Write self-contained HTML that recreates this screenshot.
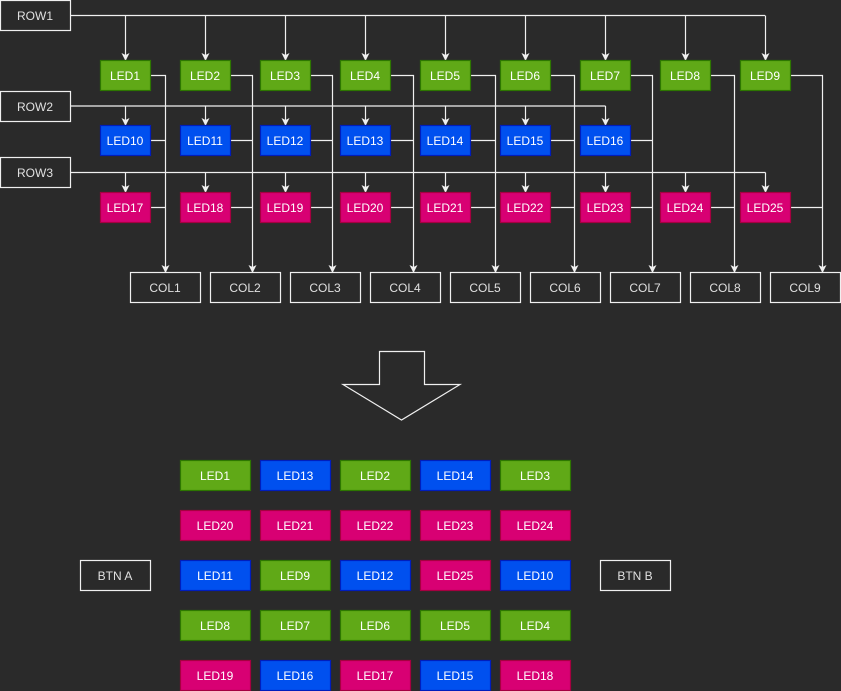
<!DOCTYPE html>
<html><head><meta charset="utf-8"><style>
html,body{margin:0;padding:0;background:#2a2a2a;}
svg{display:block;}
text{font-family:"Liberation Sans",sans-serif;font-size:12px;fill:#fff;text-anchor:middle;dominant-baseline:central;}
.w text{fill:#e0e0e0}
</style></head><body>
<svg width="841" height="691" viewBox="0 0 841 691" xmlns="http://www.w3.org/2000/svg">
<defs>
<marker id="a" markerWidth="8" markerHeight="8" refX="7" refY="4" orient="auto" markerUnits="userSpaceOnUse" viewBox="0 0 8 8">
<path d="M0,0 L8,4 L0,8 L2,4 Z" fill="#f0f0f0"/>
</marker>
</defs>
<g fill="none" stroke="#f0f0f0" stroke-width="1.2">
<path d="M70,15.5 H765"/>
<path d="M125.5,15.5 V60" marker-end="url(#a)"/><path d="M205.5,15.5 V60" marker-end="url(#a)"/><path d="M285.5,15.5 V60" marker-end="url(#a)"/><path d="M365.5,15.5 V60" marker-end="url(#a)"/><path d="M445.5,15.5 V60" marker-end="url(#a)"/><path d="M525.5,15.5 V60" marker-end="url(#a)"/><path d="M605.5,15.5 V60" marker-end="url(#a)"/><path d="M685.5,15.5 V60" marker-end="url(#a)"/><path d="M765.5,15.5 V60" marker-end="url(#a)"/>
<path d="M70,106 H605.5"/>
<path d="M125.5,106 V125" marker-end="url(#a)"/><path d="M205.5,106 V125" marker-end="url(#a)"/><path d="M285.5,106 V125" marker-end="url(#a)"/><path d="M365.5,106 V125" marker-end="url(#a)"/><path d="M445.5,106 V125" marker-end="url(#a)"/><path d="M525.5,106 V125" marker-end="url(#a)"/><path d="M605.5,106 V125" marker-end="url(#a)"/>
<path d="M70,172.5 H765.5"/>
<path d="M125.5,172.5 V192" marker-end="url(#a)"/><path d="M205.5,172.5 V192" marker-end="url(#a)"/><path d="M285.5,172.5 V192" marker-end="url(#a)"/><path d="M365.5,172.5 V192" marker-end="url(#a)"/><path d="M445.5,172.5 V192" marker-end="url(#a)"/><path d="M525.5,172.5 V192" marker-end="url(#a)"/><path d="M605.5,172.5 V192" marker-end="url(#a)"/><path d="M685.5,172.5 V192" marker-end="url(#a)"/><path d="M765.5,172.5 V192" marker-end="url(#a)"/>
<path d="M150,75.5 H165.5 V272" marker-end="url(#a)"/><path d="M150,140.5 H165.5 M150,207.5 H165.5"/>
<path d="M230,75.5 H252.5 V272" marker-end="url(#a)"/><path d="M230,140.5 H252.5 M230,207.5 H252.5"/>
<path d="M310,75.5 H332.5 V272" marker-end="url(#a)"/><path d="M310,140.5 H332.5 M310,207.5 H332.5"/>
<path d="M390,75.5 H413.5 V272" marker-end="url(#a)"/><path d="M390,140.5 H413.5 M390,207.5 H413.5"/>
<path d="M470,75.5 H495.5 V272" marker-end="url(#a)"/><path d="M470,140.5 H495.5 M470,207.5 H495.5"/>
<path d="M550,75.5 H574.5 V272" marker-end="url(#a)"/><path d="M550,140.5 H574.5 M550,207.5 H574.5"/>
<path d="M630,75.5 H652.5 V272" marker-end="url(#a)"/><path d="M630,140.5 H652.5 M630,207.5 H652.5"/>
<path d="M710,75.5 H734.5 V272" marker-end="url(#a)"/><path d="M710,207.5 H734.5"/>
<path d="M790,75.5 H822.5 V272" marker-end="url(#a)"/><path d="M790,207.5 H822.5"/>
<path d="M379.5,351.5 H424.5 V384.5 H460 L401.5,420 L343,384.5 H379.5 Z"/>
</g>
<g fill="#2a2a2a" stroke="#f0f0f0" stroke-width="1.2">
<rect x="0.5" y="0.5" width="70" height="30"/><rect x="0.5" y="91.5" width="70" height="30"/><rect x="0.5" y="157.5" width="70" height="30"/>
<rect x="130.5" y="272.5" width="70" height="30"/><rect x="210.5" y="272.5" width="70" height="30"/><rect x="290.5" y="272.5" width="70" height="30"/><rect x="370.5" y="272.5" width="70" height="30"/><rect x="450.5" y="272.5" width="70" height="30"/><rect x="530.5" y="272.5" width="70" height="30"/><rect x="610.5" y="272.5" width="70" height="30"/><rect x="690.5" y="272.5" width="70" height="30"/><rect x="770.5" y="272.5" width="70" height="30"/>
<rect x="80.5" y="560.5" width="70" height="30"/><rect x="600.5" y="560.5" width="70" height="30"/>
</g>
<g class="w">
<text x="35" y="16">ROW1</text><text x="35" y="107">ROW2</text><text x="35" y="173">ROW3</text>
<text x="165" y="288">COL1</text><text x="245" y="288">COL2</text><text x="325" y="288">COL3</text><text x="405" y="288">COL4</text><text x="485" y="288">COL5</text><text x="565" y="288">COL6</text><text x="645" y="288">COL7</text><text x="725" y="288">COL8</text><text x="805" y="288">COL9</text>
<text x="115" y="576">BTN A</text><text x="635" y="576">BTN B</text>
</g>
<g stroke-width="1.2">
<g fill="#60a917" stroke="#2d7600">
<rect x="100.5" y="60.5" width="50" height="30"/><rect x="180.5" y="60.5" width="50" height="30"/><rect x="260.5" y="60.5" width="50" height="30"/><rect x="340.5" y="60.5" width="50" height="30"/><rect x="420.5" y="60.5" width="50" height="30"/><rect x="500.5" y="60.5" width="50" height="30"/><rect x="580.5" y="60.5" width="50" height="30"/><rect x="660.5" y="60.5" width="50" height="30"/><rect x="740.5" y="60.5" width="50" height="30"/>
</g>
<g fill="#0050ef" stroke="#001dbc">
<rect x="100.5" y="125.5" width="50" height="30"/><rect x="180.5" y="125.5" width="50" height="30"/><rect x="260.5" y="125.5" width="50" height="30"/><rect x="340.5" y="125.5" width="50" height="30"/><rect x="420.5" y="125.5" width="50" height="30"/><rect x="500.5" y="125.5" width="50" height="30"/><rect x="580.5" y="125.5" width="50" height="30"/>
</g>
<g fill="#d80073" stroke="#a50040">
<rect x="100.5" y="192.5" width="50" height="30"/><rect x="180.5" y="192.5" width="50" height="30"/><rect x="260.5" y="192.5" width="50" height="30"/><rect x="340.5" y="192.5" width="50" height="30"/><rect x="420.5" y="192.5" width="50" height="30"/><rect x="500.5" y="192.5" width="50" height="30"/><rect x="580.5" y="192.5" width="50" height="30"/><rect x="660.5" y="192.5" width="50" height="30"/><rect x="740.5" y="192.5" width="50" height="30"/>
</g>
</g>
<g>
<text x="125" y="76">LED1</text><text x="205" y="76">LED2</text><text x="285" y="76">LED3</text><text x="365" y="76">LED4</text><text x="445" y="76">LED5</text><text x="525" y="76">LED6</text><text x="605" y="76">LED7</text><text x="685" y="76">LED8</text><text x="765" y="76">LED9</text>
<text x="125" y="141">LED10</text><text x="205" y="141">LED11</text><text x="285" y="141">LED12</text><text x="365" y="141">LED13</text><text x="445" y="141">LED14</text><text x="525" y="141">LED15</text><text x="605" y="141">LED16</text>
<text x="125" y="208">LED17</text><text x="205" y="208">LED18</text><text x="285" y="208">LED19</text><text x="365" y="208">LED20</text><text x="445" y="208">LED21</text><text x="525" y="208">LED22</text><text x="605" y="208">LED23</text><text x="685" y="208">LED24</text><text x="765" y="208">LED25</text>
</g>
<g stroke-width="1.2">
<g fill="#60a917" stroke="#2d7600">
<rect x="180.5" y="460.5" width="70" height="30"/><rect x="340.5" y="460.5" width="70" height="30"/><rect x="500.5" y="460.5" width="70" height="30"/>
<rect x="260.5" y="560.5" width="70" height="30"/>
<rect x="180.5" y="610.5" width="70" height="30"/><rect x="260.5" y="610.5" width="70" height="30"/><rect x="340.5" y="610.5" width="70" height="30"/><rect x="420.5" y="610.5" width="70" height="30"/><rect x="500.5" y="610.5" width="70" height="30"/>
</g>
<g fill="#0050ef" stroke="#001dbc">
<rect x="260.5" y="460.5" width="70" height="30"/><rect x="420.5" y="460.5" width="70" height="30"/>
<rect x="180.5" y="560.5" width="70" height="30"/><rect x="340.5" y="560.5" width="70" height="30"/><rect x="500.5" y="560.5" width="70" height="30"/>
<rect x="260.5" y="660.5" width="70" height="30"/><rect x="420.5" y="660.5" width="70" height="30"/>
</g>
<g fill="#d80073" stroke="#a50040">
<rect x="180.5" y="510.5" width="70" height="30"/><rect x="260.5" y="510.5" width="70" height="30"/><rect x="340.5" y="510.5" width="70" height="30"/><rect x="420.5" y="510.5" width="70" height="30"/><rect x="500.5" y="510.5" width="70" height="30"/>
<rect x="420.5" y="560.5" width="70" height="30"/>
<rect x="180.5" y="660.5" width="70" height="30"/><rect x="340.5" y="660.5" width="70" height="30"/><rect x="500.5" y="660.5" width="70" height="30"/>
</g>
</g>
<g>
<text x="215" y="476">LED1</text><text x="295" y="476">LED13</text><text x="375" y="476">LED2</text><text x="455" y="476">LED14</text><text x="535" y="476">LED3</text>
<text x="215" y="526">LED20</text><text x="295" y="526">LED21</text><text x="375" y="526">LED22</text><text x="455" y="526">LED23</text><text x="535" y="526">LED24</text>
<text x="215" y="576">LED11</text><text x="295" y="576">LED9</text><text x="375" y="576">LED12</text><text x="455" y="576">LED25</text><text x="535" y="576">LED10</text>
<text x="215" y="626">LED8</text><text x="295" y="626">LED7</text><text x="375" y="626">LED6</text><text x="455" y="626">LED5</text><text x="535" y="626">LED4</text>
<text x="215" y="676">LED19</text><text x="295" y="676">LED16</text><text x="375" y="676">LED17</text><text x="455" y="676">LED15</text><text x="535" y="676">LED18</text>
</g>
</svg>
</body></html>
